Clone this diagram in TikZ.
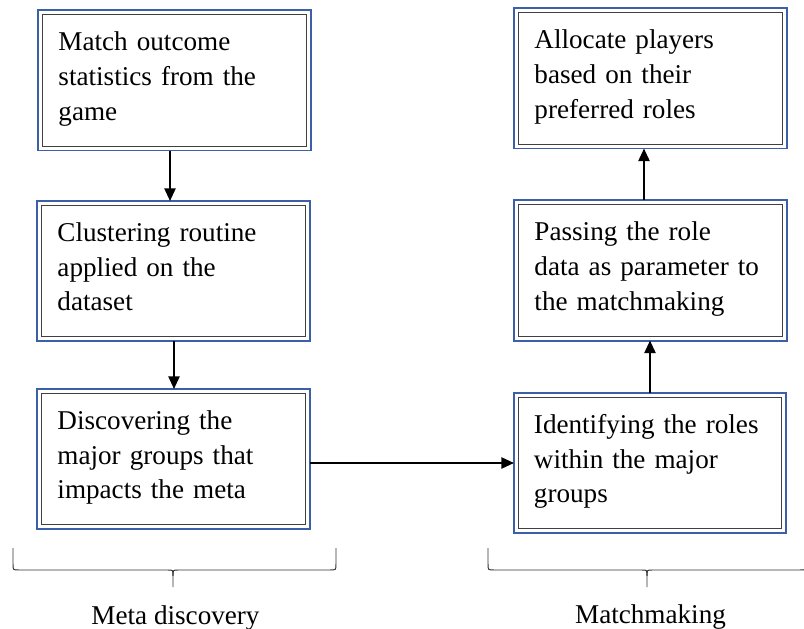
\documentclass[tikz,border=0pt]{standalone}
\usepackage{fontspec}
\setmainfont{Liberation Serif}
\usetikzlibrary{arrows.meta}

\definecolor{boxblue}{RGB}{60,96,168}

\tikzset{
    flowbox/.style={draw=black!75, line width=0.7pt, text width=5.8cm,
        inner xsep=0.3875cm, inner ysep=0.425cm, text height=0.475cm, text depth=1.95cm,
        align=left, outer sep=0.1125cm, font=\fontsize{19.3pt}{24.6pt}\selectfont},
    flow/.style={line width=1.3pt, -{Triangle[length=9pt,width=8pt]}},
    bracket/.style={line width=0.7pt, black!80},
    grouplabel/.style={anchor=base, font=\fontsize{19.3pt}{24.6pt}\selectfont}
}

\begin{document}
\begin{tikzpicture}[x=0.025cm, y=-0.025cm]
        \useasboundingbox (0,0) rectangle (804,629);

        % meta discovery column
        \node[flowbox] (outcome) at (174.5,80.5) {Match outcome\\statistics from the\\game};
        \node[flowbox] (cluster) at (173.5,271) {Clustering routine\\applied on the\\dataset};
        \node[flowbox] (groups) at (173.5,459) {Discovering the\\major groups that\\impacts the meta};

        % matchmaking column
        \node[flowbox] (allocate) at (650.5,78.5) {Allocate players\\based on their\\preferred roles};
        \node[flowbox] (passing) at (650.5,270.5) {Passing the role\\data as parameter to\\the matchmaking};
        \node[flowbox] (roles) at (650,463) {Identifying the roles\\within the major\\groups};

        % blue outer frames
        \foreach \n in {outcome,cluster,groups,allocate,passing,roles}
            \draw[boxblue, line width=1.4pt] (\n.north west) rectangle (\n.south east);

        \draw[flow] ([shift={(-4.5,0)}]outcome.south) -- ([shift={(-4.5,0)}]outcome.south |- cluster.north);
        \draw[flow] ([shift={(0.5,0)}]cluster.south) -- ([shift={(0.5,0)}]cluster.south |- groups.north);
        \draw[flow] (groups.east |- roles.west) -- (roles.west);
        \draw[flow] (roles.north) -- (roles.north |- passing.south);
        \draw[flow] ([shift={(-6.5,0)}]passing.north) -- ([shift={(-6.5,0)}]passing.north |- allocate.south);

        % braces
        \draw[bracket] (13,548) -- (13,564) .. controls (13,570) .. (19,570) -- (168,570)
            .. controls (173,570) .. (173,576) -- (173,587);
        \draw[bracket] (173,576) .. controls (173,570) .. (178,570) -- (330,570)
            .. controls (336,570) .. (336,564) -- (336,548);
        \draw[bracket] (488,548) -- (488,564) .. controls (488,570) .. (494,570) -- (642,570)
            .. controls (647,570) .. (647,576) -- (647,587);
        \draw[bracket] (647,576) .. controls (647,570) .. (652,570) -- (800,570)
            .. controls (806,570) .. (806,564) -- (806,548);

        \node[grouplabel] (metalabel) at (175.5,624.5) {Meta discovery};
        \node[grouplabel] (matchlabel) at (650.5,623.5) {Matchmaking};

    \end{tikzpicture}
\end{document}
